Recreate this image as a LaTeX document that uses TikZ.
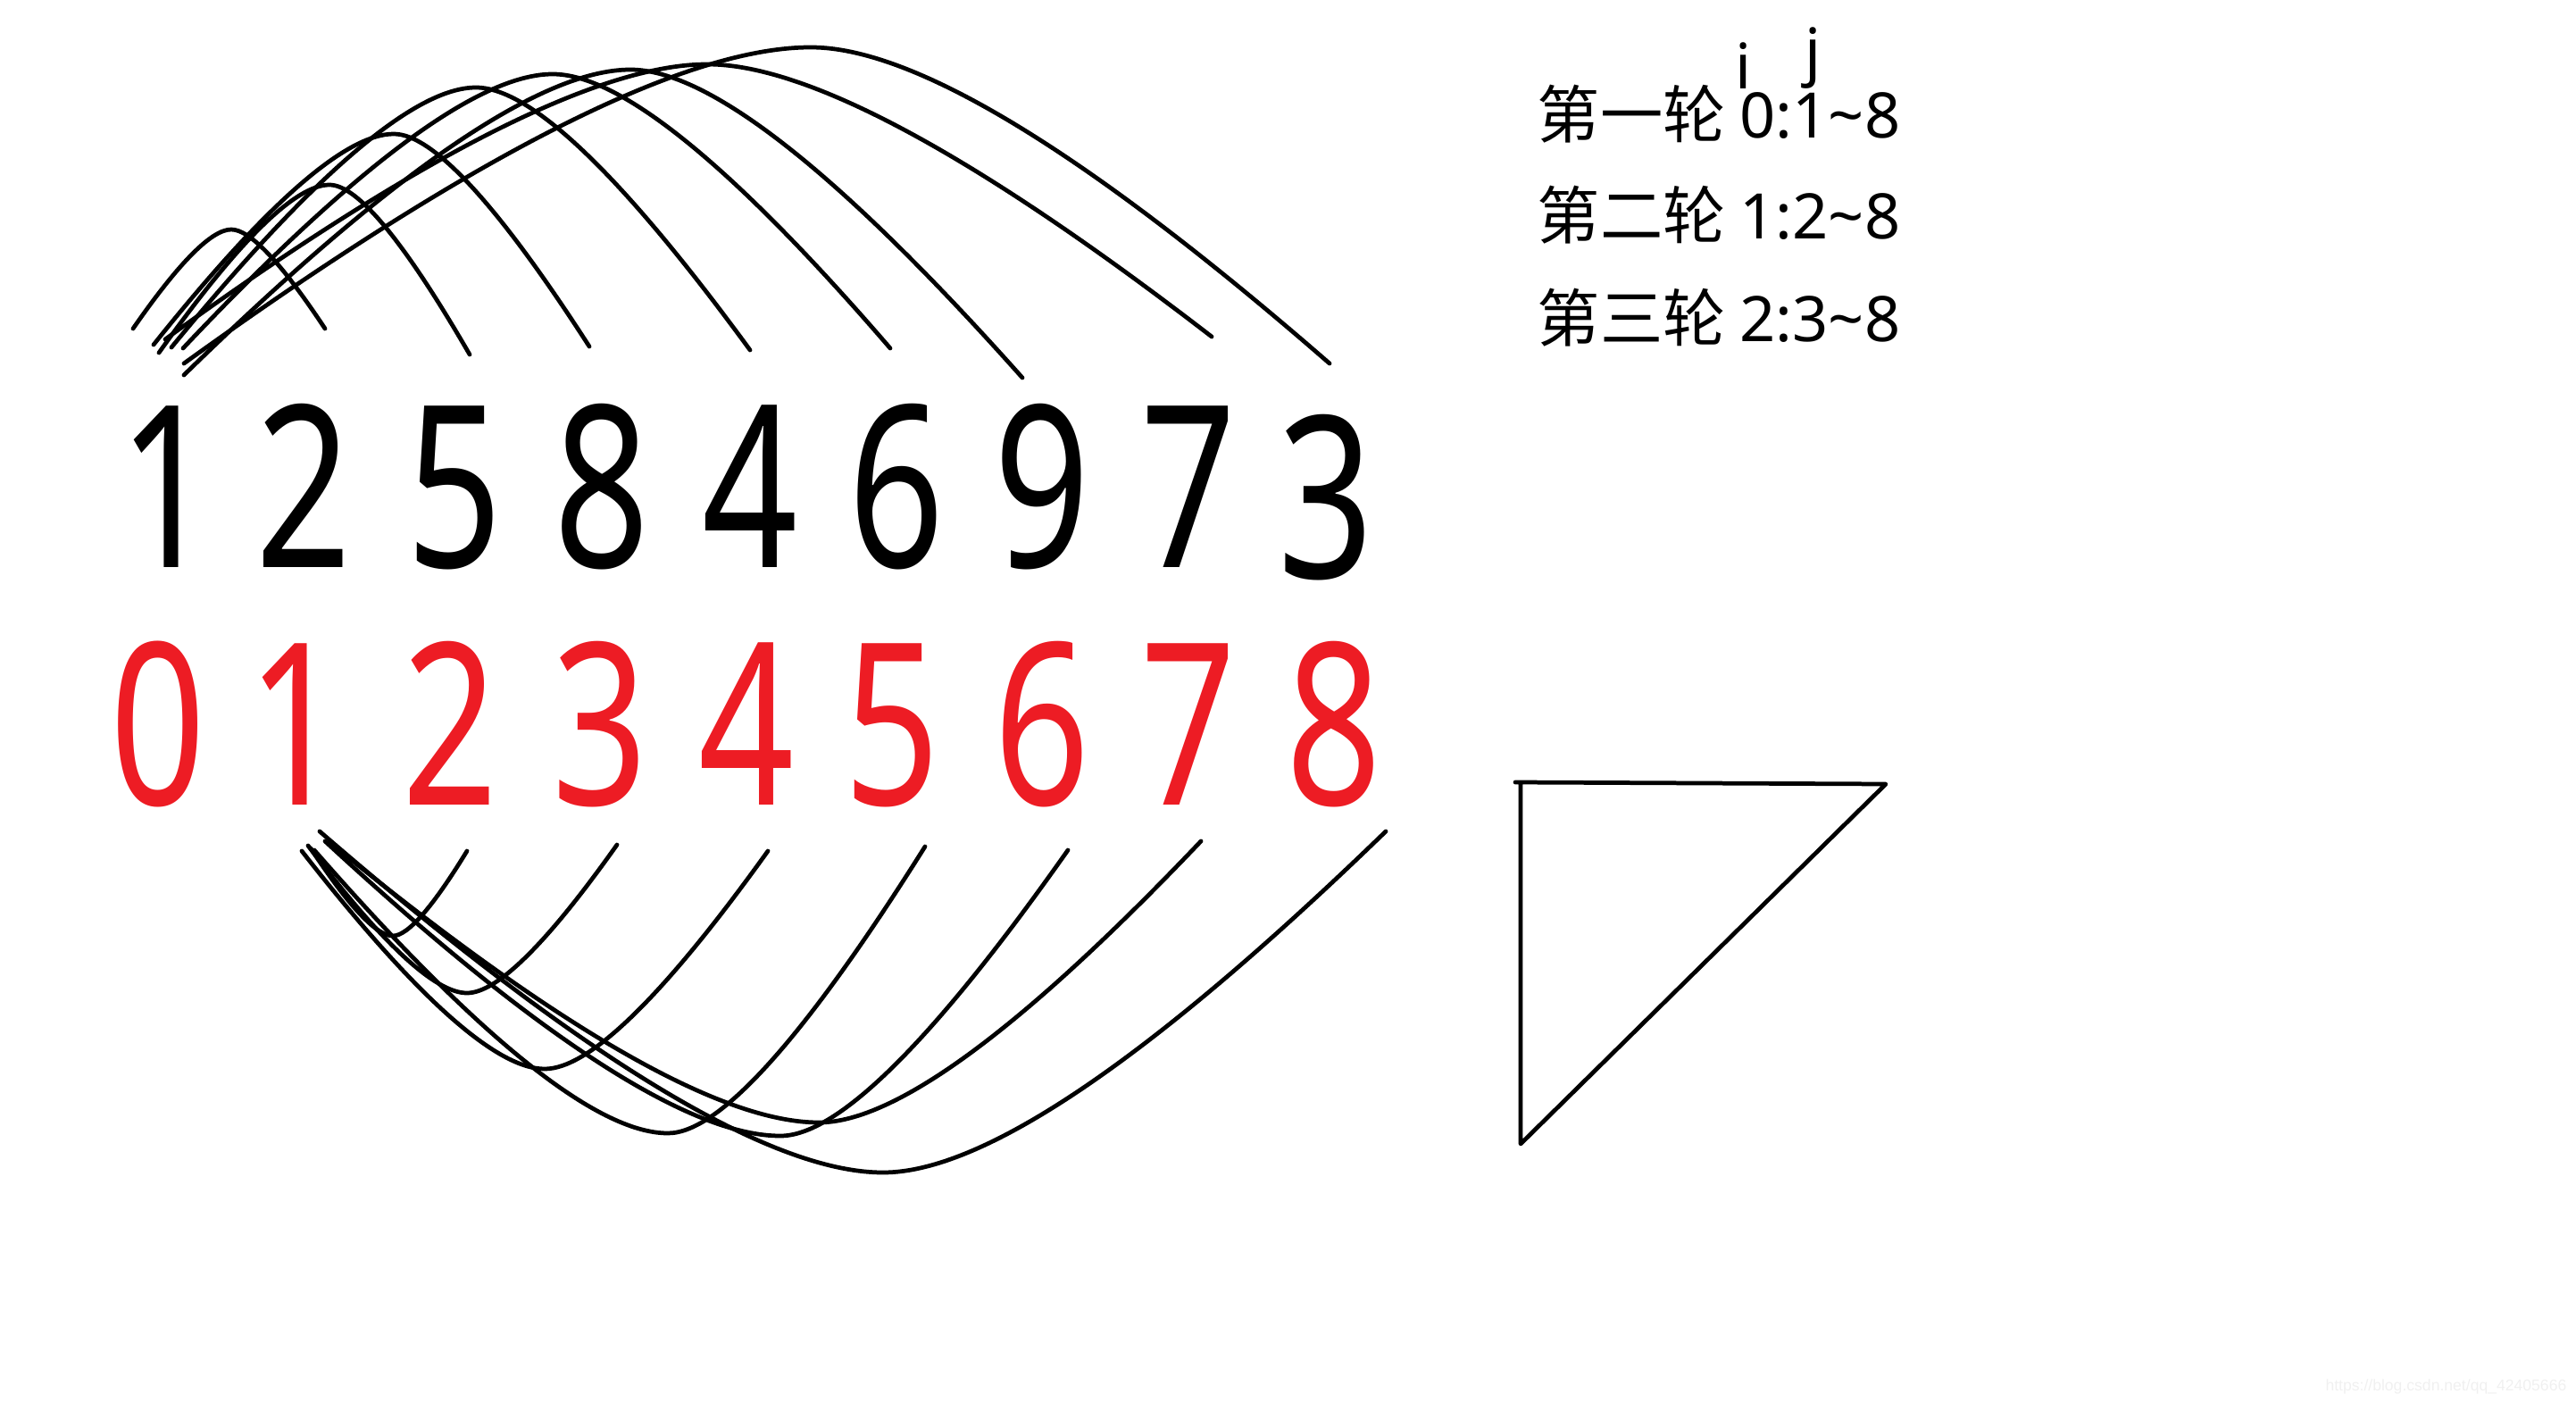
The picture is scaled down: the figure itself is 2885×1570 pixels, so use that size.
\documentclass[tikz,border=0pt]{standalone}
\usepackage{fontspec}
\newfontfamily\cjkfont{Noto Sans CJK SC}
\newfontfamily\numfont[FakeStretch=0.74]{Noto Sans}
\newfontfamily\latfont{Noto Sans}
\newfontfamily\markfont{Liberation Sans}
\definecolor{idxred}{HTML}{ED1C24}

\begin{document}
\begin{tikzpicture}[
        x=0.01cm, y=0.01cm,
        val/.style={inner sep=0pt, anchor=base, font=\numfont\fontsize{72}{80}\selectfont},
        idx/.style={val, text=idxred},
        rowtxt/.style={inner sep=0pt, anchor=base west, font=\cjkfont\fontsize{20}{24}\selectfont},
        lbl/.style={inner sep=0pt, anchor=base, font=\latfont\fontsize{20}{24}\selectfont},
        cmpline/.style={line width=1.35pt, line cap=round, line join=round},
        ]

      \useasboundingbox (0,0) rectangle (2885,-1570);

      % values
      \foreach \v/\x/\y [count=\k from 0] in {1/187/635, 2/340/635, 5/509/635, 8/674/635, 4/840/635,
                                              6/1004/635, 9/1167/635, 7/1331/635, 3/1485/647}
        \node[val] (v\k) at (\x,-\y) {\v};

      % indices
      \foreach \x [count=\k from 0] in {177, 331, 504, 672, 836, 999, 1167, 1331, 1494}
        \node[idx] (i\k) at (\x,-901) {\k};

      % upper arcs: left end / top / right end
      \foreach \lx/\ly/\ax/\ay/\rx/\ry in {149/368/259/257/364/368, 178/395/369/207/526/397,
                                          172/386/441/150/660/388, 192/389/533/98/840/392,
                                          205/390/619/83/997/390, 206/420/706/78/1145/423,
                                          185/380/792/72/1357/377, 206/407/908/53/1489/407}
        \draw[cmpline] (\lx,-\ly) .. controls ({\lx+0.467*(\ax-\lx)},{-\ly-0.667*(\ay-\ly)}) and ({\ax-0.2*(\ax-\lx)},-\ay) .. (\ax,-\ay)
                       .. controls ({\ax+0.2*(\rx-\ax)},-\ay) and ({\rx-0.467*(\rx-\ax)},{-\ry-0.667*(\ay-\ry)}) .. (\rx,-\ry);

      % lower arcs: left end / bottom / right end
      \foreach \lx/\ly/\ax/\ay/\rx/\ry in {348/950/440/1048/523/953, 345/947/523/1112/691/946,
                                          338/953/610/1197/860/953, 352/952/748/1269/1036/948,
                                          364/942/874/1272/1196/952, 369/943/917/1257/1345/942,
                                          358/931/989/1313/1552/931}
        \draw[cmpline] (\lx,-\ly) .. controls ({\lx+0.467*(\ax-\lx)},{-\ly-0.667*(\ay-\ly)}) and ({\ax-0.2*(\ax-\lx)},-\ay) .. (\ax,-\ay)
                       .. controls ({\ax+0.2*(\rx-\ax)},-\ay) and ({\rx-0.467*(\rx-\ax)},{-\ry-0.667*(\ay-\ry)}) .. (\rx,-\ry);

      % rounds
      \node[lbl] (lbli) at (1953,-100) {i};
      \node[lbl] (lblj) at (2031,-83) {j};
      \node[rowtxt] (row1) at (1721,-155) {第一轮 {\latfont 0:1\textasciitilde8}};
      \node[rowtxt] (row2) at (1721,-268) {第二轮 {\latfont 1:2\textasciitilde8}};
      \node[rowtxt] (row3) at (1721,-383) {第三轮 {\latfont 2:3\textasciitilde8}};

      % triangle
      \coordinate (ta) at (1697,-876);
      \coordinate (tb) at (2112,-878);
      \coordinate (tc) at (1703,-1281);
      \coordinate (td) at (1703,-878);
      \draw[cmpline] (ta) -- (tb) -- (tc) -- (td);

      \node[inner sep=0pt, anchor=base east, font=\markfont\fontsize{5}{6}\selectfont, text=black!6] (wm) at (2875,-1557) {https://blog.csdn.net/qq\_42405666};
    \end{tikzpicture}
\end{document}
